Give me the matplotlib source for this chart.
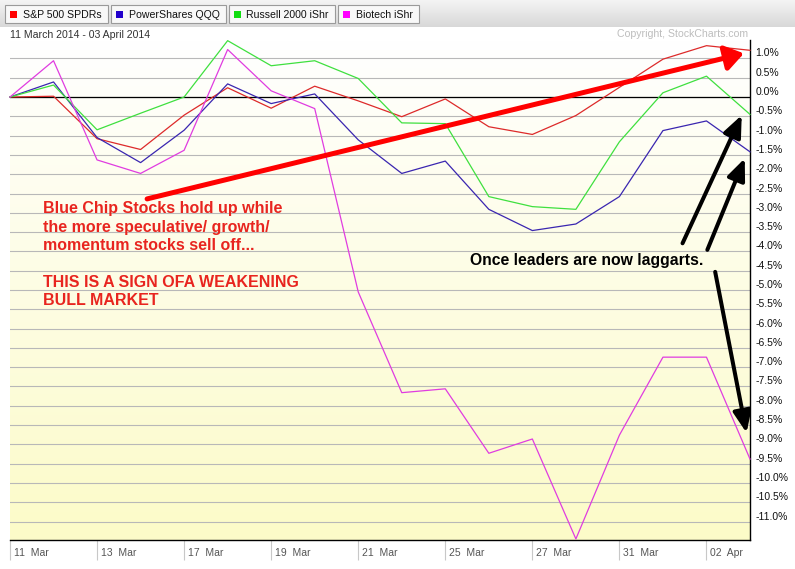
import matplotlib
matplotlib.use("Agg")
import matplotlib.pyplot as plt
from matplotlib.colors import LinearSegmentedColormap
from matplotlib.patches import Rectangle, FancyArrowPatch
import numpy as np

plt.rcParams['font.family'] = ['Liberation Sans', 'DejaVu Sans']

# ── Data (percent change since 11 Mar 2014) ───────────────────────────────────
dates = ['11  Mar', '12  Mar', '13  Mar', '14  Mar', '17  Mar', '18  Mar', '19  Mar',
         '20  Mar', '21  Mar', '24  Mar', '25  Mar', '26  Mar', '27  Mar', '28  Mar',
         '31  Mar', '01  Apr', '02  Apr', '03  Apr']
series_names = ["S&P 500 SPDRs", "PowerShares QQQ", "Russell 2000 iShr", "Biotech iShr"]
spy = [0.0, 0.02, -1.08, -1.36, -0.47, 0.24, -0.29, 0.28, -0.10, -0.51,
       -0.05, -0.77, -0.97, -0.48, 0.25, 0.98, 1.33, 1.21]
qqq = [0.0, 0.39, -1.05, -1.70, -0.86, 0.34, -0.17, 0.08, -1.11, -1.98,
       -1.66, -2.91, -3.46, -3.29, -2.58, -0.87, -0.62, -1.42]
iwm = [0.0, 0.31, -0.85, -0.42, 0.0, 1.46, 0.81, 0.94, 0.48, -0.67,
       -0.69, -2.58, -2.84, -2.91, -1.16, 0.11, 0.54, -0.45]
ibb = [0.0, 0.94, -1.63, -1.98, -1.38, 1.23, 0.16, -0.30, -5.05, -7.66,
       -7.56, -9.23, -8.86, -11.45, -8.76, -6.74, -6.74, -9.38]
y_ticks = np.arange(1.0, -11.01, -0.5)

LINE_COLORS = ['#dd2a2a', '#3a26b0', '#3fe03f', '#e03ce0']
KEY_COLORS = ['#ff0000', '#2200cc', '#11dd11', '#ff00ff']
RED_NOTE = '#e8251f'

# ── Layout (pixel based) ─────────────────────────────────────────────────────
W, H = 795, 569
fig = plt.figure(figsize=(W / 100, H / 100), dpi=100, facecolor='white')


def fx(x):
    return x / W


def fy(y):
    return 1 - y / H


ax = fig.add_axes([fx(10), fy(540), (750 - 10) / W, (540 - 40) / H])
x = np.arange(len(dates))
ylo, yhi = -11.477, 1.477
ax.set_xlim(0, len(dates) - 1)
ax.set_ylim(ylo, yhi)

# background gradient white -> pale yellow
bg = LinearSegmentedColormap.from_list('bg', ['#ffffff', '#fcfbc8'])
ax.imshow(np.linspace(0, 1, 256).reshape(-1, 1), cmap=bg, aspect='auto',
          extent=[0, len(dates) - 1, ylo, yhi], origin='upper', zorder=0)

ax.set_yticks(y_ticks)
ax.set_yticklabels([f"{abs(v) if v == 0 else v:.1f}%" for v in y_ticks])
ax.yaxis.tick_right()
ax.tick_params(axis='y', length=0, pad=4, labelsize=7.5, labelcolor='#111111')
for lab in ax.get_yticklabels():
    lab.set_va('bottom')
ax.yaxis.grid(True, color='#b8b8b8', lw=0.8)
ax.set_axisbelow(True)
ax.axhline(0, color='black', lw=0.9, zorder=1.5)

ax.set_xticks(x[::2])
ax.set_xticklabels([])
ax.tick_params(axis='x', length=14.4, width=0.8, color='#c8c8c8', direction='out')
for i in x[::2]:
    ax.annotate(dates[i], xy=(i, 0), xycoords=('data', 'axes fraction'),
                xytext=(2.9, -11.5), textcoords='offset points',
                ha='left', va='baseline', fontsize=7.5, color='#555555')

for side in ('left', 'top'):
    ax.spines[side].set_visible(False)
for side in ('bottom', 'right'):
    ax.spines[side].set_color('black')
    ax.spines[side].set_linewidth(1.0)

for vals, c in zip([spy, qqq, iwm, ibb], LINE_COLORS):
    ax.plot(x, vals, color=c, lw=0.9, zorder=3, clip_on=False)

# ── Annotations ──────────────────────────────────────────────────────────────
ax.add_patch(FancyArrowPatch((3.15, -2.64), (16.86, 1.13),
                             arrowstyle='-|>,head_length=1.1,head_width=0.75',
                             mutation_scale=10, lw=3.6, color='#ff0000',
                             shrinkA=0, shrinkB=0, zorder=5))
for p0, p1 in [((15.45, -3.79), (16.81, -0.47)),
               ((16.02, -3.96), (16.88, -1.59)),
               ((16.20, -4.53), (16.92, -8.70))]:
    ax.add_patch(FancyArrowPatch(p0, p1,
                                 arrowstyle='-|>,head_length=1.3,head_width=0.55',
                                 mutation_scale=10, lw=2.9, color='black',
                                 shrinkA=0, shrinkB=0, zorder=5))

ax.text(0.75, -2.70,
        "Blue Chip Stocks hold up while\nthe more speculative/ growth/\n"
        "momentum stocks sell off...\n\nTHIS IS A SIGN OFA WEAKENING\nBULL MARKET",
        color=RED_NOTE, fontsize=11.5, fontweight='bold', va='top',
        ha='left', linespacing=1.28, zorder=6)
ax.text(10.57, -4.36, "Once leaders are now laggarts.", color='black',
        fontsize=11.3, fontweight='bold', va='baseline', ha='left', zorder=6)

fig.text(fx(10), fy(37.7), "11 March 2014 - 03 April 2014", fontsize=7.6,
         color='#333333', va='baseline')
fig.text(fx(748), fy(37.3), "Copyright, StockCharts.com", fontsize=7.6,
         color='#bdbdbd', va='baseline', ha='right')

# ── Header legend bar ────────────────────────────────────────────────────────
hax = fig.add_axes([0, fy(27), 1, 27 / H])
hax.set_xlim(0, W)
hax.set_ylim(27, 0)
hax.axis('off')
hg = LinearSegmentedColormap.from_list('hg', ['#f4f4f4', '#d8d8d8'])
hax.imshow(np.linspace(0, 1, 64).reshape(-1, 1), cmap=hg, aspect='auto',
           extent=[0, W, 27, 0], origin='upper', zorder=0)

renderer = fig.canvas.get_renderer()
bx = 5
for name, c in zip(series_names, KEY_COLORS):
    t = hax.text(bx + 18, 18.3, name, fontsize=7.6, va='baseline',
                 color='#111111', zorder=3)
    tw = t.get_window_extent(renderer).width
    bw = 18 + tw + 6
    hax.add_patch(Rectangle((bx, 5), bw, 17.7, fc='#f8f8f8', ec='#9a9a9a',
                            lw=0.8, zorder=1))
    hax.add_patch(Rectangle((bx + 5, 11.3), 7, 7, fc=c, ec='none', zorder=2))
    bx += bw + 3

fig.savefig('out.png', dpi=100)
